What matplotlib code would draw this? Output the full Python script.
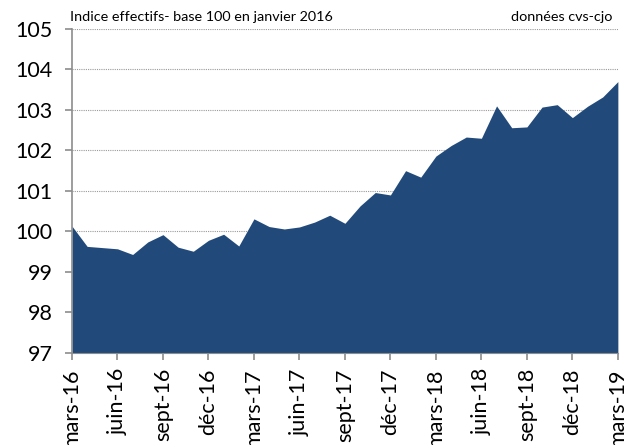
import matplotlib
matplotlib.use("Agg")
import matplotlib.pyplot as plt

# monthly index, mars-16 .. mars-19
values = [
    100.13, 99.63, 99.60, 99.57, 99.43, 99.74, 99.92, 99.61, 99.51, 99.78,
    99.93, 99.64, 100.31, 100.12, 100.06, 100.11, 100.23, 100.40, 100.20, 100.63,
    100.96, 100.90, 101.50, 101.34, 101.86, 102.12, 102.33, 102.30, 103.10, 102.56,
    102.58, 103.07, 103.13, 102.81, 103.09, 103.32, 103.70,
]
tick_labels = [
    "mars-16", "juin-16", "sept-16", "déc-16",
    "mars-17", "juin-17", "sept-17", "déc-17",
    "mars-18", "juin-18", "sept-18", "déc-18", "mars-19",
]
y_ticks = [97, 98, 99, 100, 101, 102, 103, 104, 105]

plt.rcParams["font.family"] = ["Lato", "DejaVu Sans"]

fig = plt.figure(figsize=(6.26, 4.45), dpi=100)
ax = fig.add_axes([0.115, 0.207, 0.872, 0.728])

x = list(range(len(values)))
ax.fill_between(x, 97, values, color="#214a7b", linewidth=0)

ax.set_xlim(0, len(values) - 1)
ax.set_ylim(97, 105)
ax.set_yticks(y_ticks)
ax.set_yticklabels([str(v) for v in y_ticks], fontsize=15.5)
ax.set_xticks(x[::3])
ax.set_xticklabels(tick_labels, rotation=90, fontsize=15.5)

for v in y_ticks[1:]:
    ax.axhline(v, color="#9a9a9a", linestyle=(0, (1, 1)), linewidth=0.8, zorder=0)

for side in ["top", "right"]:
    ax.spines[side].set_visible(False)
ax.spines["left"].set_color("#8c8c8c")
ax.spines["bottom"].set_color("#8c8c8c")
ax.spines["left"].set_linewidth(1.2)
ax.tick_params(axis="both", colors="#8c8c8c", labelcolor="black", length=5, width=1.2)
ax.tick_params(axis="y", pad=9)
ax.tick_params(axis="x", pad=6)

fig.text(0.112, 0.962, "Indice effectifs- base 100 en janvier 2016", fontsize=10.4,
         ha="left", va="center")
fig.text(0.978, 0.962, "données cvs-cjo", fontsize=10.4, ha="right", va="center")

fig.savefig("out.png", dpi=100)
